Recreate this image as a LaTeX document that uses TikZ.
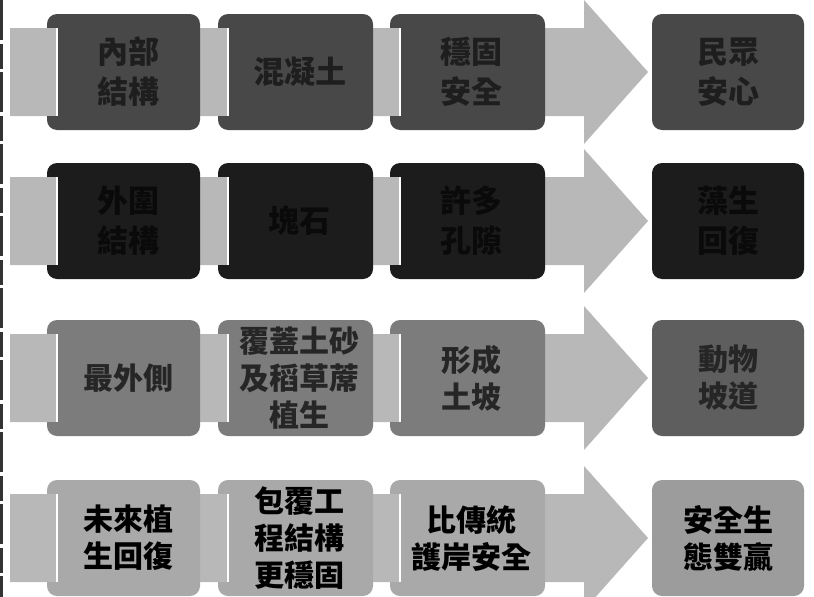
\documentclass[tikz,border=0pt]{standalone}
\usepackage{fontspec}
\newfontfamily\cjk{Noto Sans CJK TC}
\definecolor{arrowc}{HTML}{B8B8B8}
\definecolor{bA}{HTML}{484848}
\definecolor{tA}{HTML}{1E1E1E}
\definecolor{bB}{HTML}{1C1C1C}
\definecolor{tB}{HTML}{0A0A0A}
\definecolor{bC}{HTML}{7C7C7C}
\definecolor{bCr}{HTML}{5E5E5E}
\definecolor{tC}{HTML}{262626}
\definecolor{bD}{HTML}{A9A9A9}
\definecolor{bDr}{HTML}{9C9C9C}
\tikzset{
  procbox/.style={draw=none, rounded corners=10pt, minimum height=116, inner sep=0pt},
  proctext/.style={inner sep=0pt, align=center, font=\cjk\bfseries\fontsize{31}{40}\selectfont},
  tabfill/.style={fill=arrowc},
  tabline/.style={draw=white, line width=1.6pt},
}
% #1 name prefix, #2 centre y, #3 box fill, #4 text colour, #5..#8 texts, #9 right box fill
\newcommand\procrow[9]{%
  \fill[arrowc] (10,#2-44) -- (584,#2-44) -- (584,#2-72) -- (648,#2) -- (584,#2+72) -- (584,#2+44) -- (10,#2+44) -- cycle;
  \node[procbox, fill=#3, minimum width=153] (#1a) at (123.5,#2) {};
  \node[procbox, fill=#3, minimum width=155] (#1b) at (295.5,#2) {};
  \node[procbox, fill=#3, minimum width=155] (#1c) at (467.5,#2) {};
  \node[procbox, fill=#9, minimum width=152] (#1d) at (728,#2) {};
  \fill[tabfill] (10,#2-44) rectangle (57,#2+44);
  \fill[tabfill] (200.5,#2-44) rectangle (228,#2+44);
  \fill[tabfill] (373.5,#2-44) rectangle (400,#2+44);
  \draw[tabline] (57,#2-44) -- (57,#2+44);
  \draw[tabline] (228,#2-44) -- (228,#2+44);
  \draw[tabline] (400,#2-44) -- (400,#2+44);
  \node[proctext, text=#4] (#1at) at ([xshift=5pt]#1a.center) {#5};
  \node[proctext, text=#4] (#1bt) at ([xshift=4pt]#1b.center) {#6};
  \node[proctext, text=#4] (#1ct) at ([xshift=4pt]#1c.center) {#7};
  \node[proctext, text=#4] (#1dt) at (#1d.center) {#8};
}
\begin{document}
\begin{tikzpicture}[x=1pt,y=-1pt]
\useasboundingbox (0,0) rectangle (814,597);
\fill[white] (0,0) rectangle (814,597);
\draw[gray!40!black, line width=2.5pt, dash pattern=on 40pt off 4pt on 25pt off 3pt] (1.5,0) -- (1.5,597);
\procrow{r1}{72}{bA}{tA}{內部\\結構}{混凝土}{穩固\\安全}{民眾\\安心}{bA}
\procrow{r2}{221}{bB}{tB}{外圍\\結構}{塊石}{許多\\孔隙}{藻生\\回復}{bB}
\begin{scope}
\tikzset{proctext/.append style={font=\cjk\bfseries\fontsize{30}{37}\selectfont}}
\procrow{r3}{378}{bC}{tC}{最外側}{覆蓋土砂\\及稻草蓆\\植生}{形成\\土坡}{動物\\坡道}{bCr}
\procrow{r4}{538}{bD}{black}{未來植\\生回復}{包覆工\\程結構\\更穩固}{比傳統\\護岸安全}{安全生\\態雙贏}{bDr}
\end{scope}
\end{tikzpicture}
\end{document}
